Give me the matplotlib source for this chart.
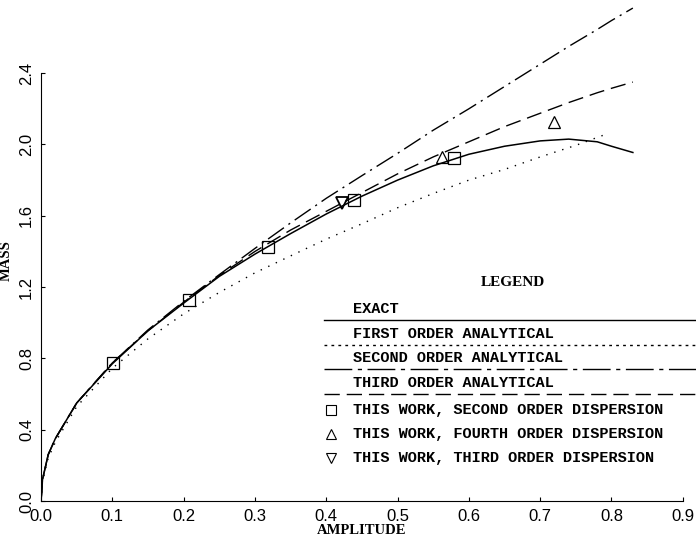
import matplotlib
matplotlib.use("Agg")
import matplotlib.pyplot as plt
import numpy as np

# amplitude grid shared by the analytical curves
amp = [0.0, 0.002, 0.01, 0.02, 0.05, 0.10, 0.15, 0.20, 0.25, 0.30, 0.35, 0.40,
       0.45, 0.50, 0.55, 0.60, 0.65, 0.70, 0.74, 0.78, 0.80, 0.83]

exact = [0.0, 0.12, 0.26, 0.35, 0.55, 0.77, 0.955, 1.11, 1.26, 1.385, 1.50, 1.61,
         1.71, 1.80, 1.88, 1.945, 1.99, 2.02, 2.03, 2.015, 1.99, 1.955]

amp_first = [0.0, 0.002, 0.01, 0.02, 0.05, 0.10, 0.15, 0.20, 0.25, 0.30, 0.35, 0.40,
             0.45, 0.50, 0.55, 0.60, 0.65, 0.70, 0.75, 0.79]
first = [0.0, 0.11, 0.24, 0.33, 0.53, 0.745, 0.91, 1.05, 1.17, 1.28, 1.375, 1.469,
         1.555, 1.645, 1.725, 1.80, 1.86, 1.93, 1.995, 2.054]

second = [0.0, 0.12, 0.26, 0.35, 0.55, 0.775, 0.96, 1.12, 1.27, 1.417, 1.56, 1.698,
          1.825, 1.95, 2.08, 2.20, 2.325, 2.45, 2.55, 2.645, 2.695, 2.765]

third = [0.0, 0.12, 0.26, 0.35, 0.55, 0.775, 0.955, 1.115, 1.265, 1.40, 1.52, 1.625,
         1.73, 1.835, 1.93, 2.015, 2.10, 2.175, 2.235, 2.29, 2.315, 2.35]

sq_amp = [0.101, 0.207, 0.318, 0.439, 0.579]
sq_mass = [0.773, 1.129, 1.425, 1.688, 1.922]
tu_amp = [0.563, 0.72]
tu_mass = [1.928, 2.126]
td_amp = [0.4215]
td_mass = [1.673]

xticks = [0.0, 0.1, 0.2, 0.3, 0.4, 0.5, 0.6, 0.7, 0.8, 0.9]
yticks = [0.0, 0.4, 0.8, 1.2, 1.6, 2.0, 2.4]

fig = plt.figure(figsize=(6.96, 5.41), dpi=100)
ax = fig.add_axes([0.059, 0.0739, 0.922, 0.926])

ax.plot(amp, exact, color="black", lw=1.1)
ax.plot(amp_first, first, color="black", lw=1.0, linestyle=(0, (1, 5)))
ax.plot(amp, second, color="black", lw=1.0, linestyle=(0, (14, 4, 1.5, 4)))
ax.plot(amp, third, color="black", lw=1.0, linestyle=(0, (11, 5)))

ax.plot(sq_amp, sq_mass, "s", mfc="none", mec="black", ms=9, mew=0.9)
ax.plot(tu_amp, tu_mass, "^", mfc="none", mec="black", ms=9, mew=0.9)
ax.plot(td_amp, td_mass, "v", mfc="none", mec="black", ms=9, mew=1.3)

ax.set_xlim(0, 0.9)
ax.set_ylim(0, 2.81)
ax.set_xticks(xticks)
ax.set_yticks(yticks)
ax.set_xticklabels(["%.1f" % v for v in xticks], fontsize=12, family="Liberation Sans")
ax.set_yticklabels(["%.1f" % v for v in yticks], fontsize=12, family="Liberation Sans",
                   rotation=90, va="center")
ax.tick_params(direction="in", length=3, width=0.8)
ax.tick_params(axis="x", pad=6)
ax.tick_params(axis="y", pad=5)
for s in ["top", "right"]:
    ax.spines[s].set_visible(False)
ax.spines["left"].set_bounds(0, 2.4)

ax.set_xlabel("AMPLITUDE", fontsize=10.5, family="Liberation Serif", fontweight="bold", labelpad=0)
ax.set_ylabel("MASS", fontsize=10.5, family="Liberation Serif", fontweight="bold")
ax.yaxis.set_label_coords(-0.044, 0.48)

# hand-made legend in figure pixels
W, H = 696.0, 541.0
def fx(p):
    return p / W
def fy(p):
    return 1 - p / H

mono = dict(family="Liberation Mono", fontsize=11, fontweight="bold", va="center")
fig.text(fx(513), fy(283), "LEGEND", ha="center", family="Liberation Serif", fontsize=11,
         fontweight="bold", va="center")

entries = [
    ("EXACT", 309, 320, "-"),
    ("FIRST ORDER ANALYTICAL", 334, 345, (0, (2, 3))),
    ("SECOND ORDER ANALYTICAL", 358, 369, (0, (20, 4, 3, 4))),
    ("THIRD ORDER ANALYTICAL", 383, 394, (0, (11, 5))),
]
for label, ty, ly, ls in entries:
    fig.text(fx(353), fy(ty), label, **mono)
    fig.add_artist(plt.Line2D([fx(324), fx(696)], [fy(ly), fy(ly)], color="black",
                              lw=1.0, linestyle=ls, transform=fig.transFigure))

marks = [
    ("s", "THIS WORK, SECOND ORDER DISPERSION", 410),
    ("^", "THIS WORK, FOURTH ORDER DISPERSION", 434),
    ("v", "THIS WORK, THIRD ORDER DISPERSION", 458),
]
for m, label, ty in marks:
    fig.add_artist(plt.Line2D([fx(331)], [fy(ty)], marker=m, mfc="none", mec="black",
                              ms=7.5, mew=0.8, transform=fig.transFigure))
    fig.text(fx(353), fy(ty), label, **mono)

fig.savefig("out.png", dpi=100)
